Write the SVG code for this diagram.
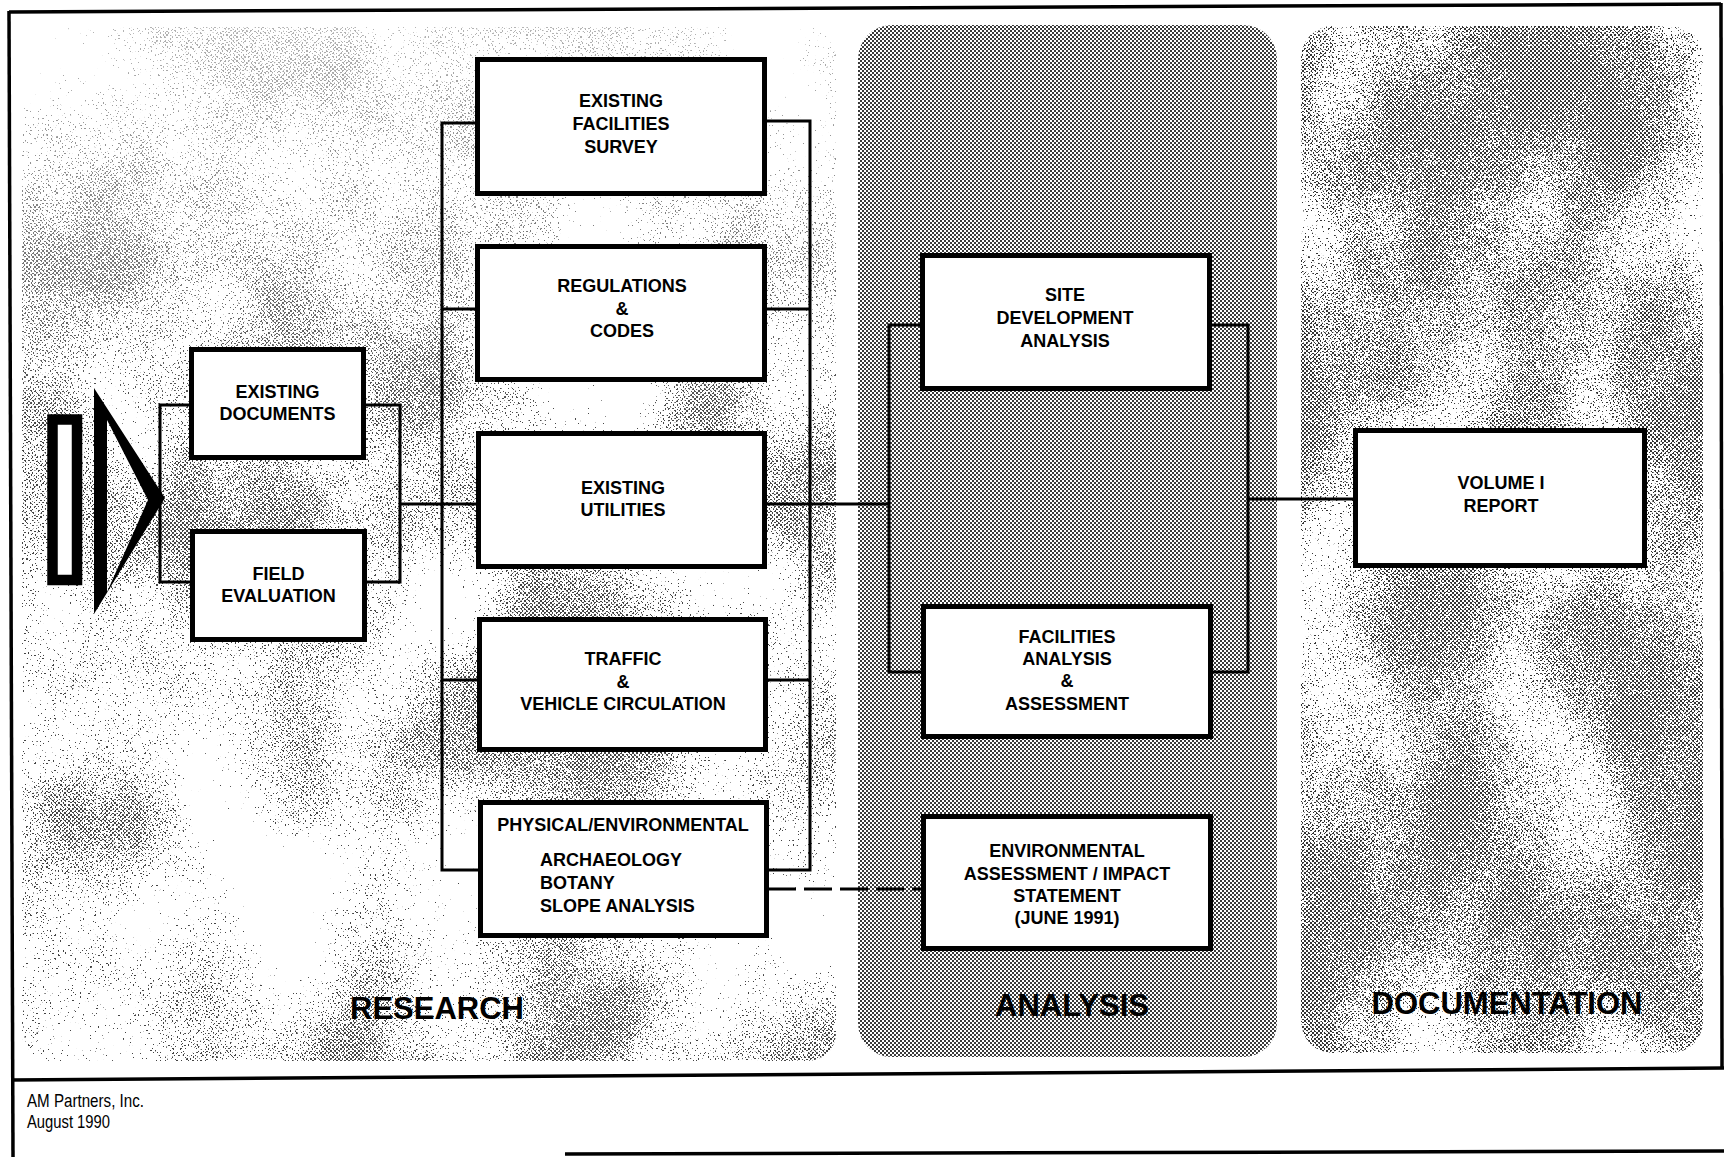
<svg xmlns="http://www.w3.org/2000/svg" width="1724" height="1157" viewBox="0 0 1724 1157">
<style>
.box{fill:#fff;stroke:#000;stroke-width:5}
.t{font-family:"Liberation Sans",Arial,Helvetica,sans-serif;font-weight:bold;font-size:18px;fill:#000;text-anchor:middle}
.tl{text-anchor:start}
.lab{font-family:"Liberation Sans",Arial,Helvetica,sans-serif;font-weight:bold;font-size:31px;fill:#000;text-anchor:middle}
.foot{font-family:"Liberation Sans",Arial,Helvetica,sans-serif;font-size:19px;fill:#000}
.conn{fill:none;stroke:#000;stroke-width:3}
.frame{fill:none;stroke:#000;stroke-width:3.5}
</style>
<defs>
<pattern id="chk" width="4" height="4" patternUnits="userSpaceOnUse">
<rect width="4" height="4" fill="#fff"/>
<rect width="2" height="2" fill="#3a3a3a"/>
<rect x="2" y="2" width="2" height="2" fill="#3a3a3a"/>
</pattern>
<pattern id="chkD" width="4" height="4" patternUnits="userSpaceOnUse">
<rect width="2" height="2" fill="#333"/>
<rect x="2" y="2" width="2" height="2" fill="#333"/>
</pattern>
<pattern id="chkL" width="4" height="4" patternUnits="userSpaceOnUse">
<rect width="2" height="2" fill="#444"/>
<rect x="2" y="2" width="2" height="2" fill="#444"/>
</pattern>
<filter id="stR" x="0" y="0" width="100%" height="100%" color-interpolation-filters="sRGB">
<feTurbulence type="fractalNoise" baseFrequency="0.6" numOctaves="1" seed="4" result="f"/>
<feColorMatrix in="f" type="matrix" values="1 0 0 0 0 1 0 0 0 0 1 0 0 0 0 0 0 0 0 1" result="fo"/>
<feTurbulence type="fractalNoise" baseFrequency="0.006 0.005" numOctaves="3" seed="9" result="c"/>
<feColorMatrix in="c" type="matrix" values="1 0 0 0 0 1 0 0 0 0 1 0 0 0 0 0 0 0 0 1" result="co"/>
<feComposite in="fo" in2="co" operator="arithmetic" k2="0.9" k3="0.65" k4="-0.34" result="s"/>
<feColorMatrix in="s" type="matrix" values="0 0 0 0 1 0 0 0 0 1 0 0 0 0 1 30 0 0 0 -15"/>
</filter>
<filter id="stD" x="0" y="0" width="100%" height="100%" color-interpolation-filters="sRGB">
<feTurbulence type="fractalNoise" baseFrequency="0.6" numOctaves="1" seed="11" result="f"/>
<feColorMatrix in="f" type="matrix" values="1 0 0 0 0 1 0 0 0 0 1 0 0 0 0 0 0 0 0 1" result="fo"/>
<feTurbulence type="fractalNoise" baseFrequency="0.008 0.005" numOctaves="3" seed="21" result="c"/>
<feColorMatrix in="c" type="matrix" values="1 0 0 0 0 1 0 0 0 0 1 0 0 0 0 0 0 0 0 1" result="co"/>
<feComposite in="fo" in2="co" operator="arithmetic" k2="0.7" k3="0.5" k4="-0.07" result="s"/>
<feColorMatrix in="s" type="matrix" values="0 0 0 0 1 0 0 0 0 1 0 0 0 0 1 30 0 0 0 -15"/>
</filter>
<linearGradient id="fadeTop" x1="0" y1="0" x2="0" y2="1">
<stop offset="0" stop-color="#000" stop-opacity="0.6"/>
<stop offset="0.4" stop-color="#000" stop-opacity="0"/>
</linearGradient>
<mask id="mR" maskUnits="userSpaceOnUse" x="0" y="0" width="1724" height="1157">
<rect x="22" y="27" width="814" height="1034" fill="#fff" filter="url(#stR)"/>
<rect x="22" y="27" width="814" height="1034" fill="url(#fadeTop)"/>
</mask>
<mask id="mD" maskUnits="userSpaceOnUse" x="0" y="0" width="1724" height="1157">
<rect x="1301" y="26" width="402" height="1027" fill="#fff" filter="url(#stD)"/>
</mask>
</defs>

<rect width="1724" height="1157" fill="#fff"/>

<g id="panel-research">
<rect x="22" y="27" width="814" height="1034" rx="28" fill="url(#chkL)" mask="url(#mR)"/>
<text class="lab" x="437" y="1019">RESEARCH</text>
</g>
<g id="panel-analysis">
<rect x="858" y="25" width="419" height="1032" rx="34" fill="url(#chk)"/>
<text class="lab" x="1072" y="1016">ANALYSIS</text>
</g>
<g id="panel-documentation">
<rect x="1301" y="26" width="402" height="1027" rx="32" fill="url(#chkD)" mask="url(#mD)"/>
<text class="lab" x="1507" y="1014">DOCUMENTATION</text>
</g>

<g id="frame">
<line class="frame" x1="9" y1="12" x2="1721" y2="4"/>
<line class="frame" x1="9" y1="11" x2="13" y2="1157"/>
<line class="frame" x1="1721" y1="3" x2="1722" y2="1069"/>
<line class="frame" x1="11" y1="1080" x2="1724" y2="1068"/>
<line class="frame" x1="565" y1="1154" x2="1724" y2="1151"/>
</g>

<g id="connectors">
<path class="conn" d="M190,405 H160 V582 H191"/>
<path class="conn" d="M364,405 H400 V582 H365"/>
<path class="conn" d="M400,504 H478"/>
<path class="conn" d="M477,123 H442 V870 H480"/>
<path class="conn" d="M442,309 H477"/>
<path class="conn" d="M442,680 H479"/>
<path class="conn" d="M765,121 H810 V870 H767"/>
<path class="conn" d="M765,309 H810"/>
<path class="conn" d="M766,680 H810"/>
<path class="conn" d="M765,504 H889"/>
<path class="conn" d="M922,325 H889 V672 H923"/>
<path class="conn" d="M1210,325 H1248 V672 H1211"/>
<path class="conn" d="M1248,499 H1355"/>
<path class="conn" d="M768,889 H922" stroke-dasharray="28 8"/>
</g>

<g id="start-symbol">
<rect x="52.5" y="419.5" width="24.5" height="160.5" fill="#fff" stroke="#000" stroke-width="10.5"/>
<path d="M94,388 L165,498 L94,614 Z M107,420 L107,592 L148,500 Z" fill="#000" fill-rule="evenodd"/>
</g>

<g id="existing-documents">
<rect class="box" x="191.5" y="349.5" width="172" height="108"/>
<text class="t" x="277.5" y="398">EXISTING</text>
<text class="t" x="277.5" y="420">DOCUMENTS</text>
</g>
<g id="field-evaluation">
<rect class="box" x="192.5" y="531.5" width="172" height="108"/>
<text class="t" x="278.5" y="580">FIELD</text>
<text class="t" x="278.5" y="602">EVALUATION</text>
</g>

<g id="existing-facilities-survey">
<rect class="box" x="477.5" y="59.5" width="287" height="134"/>
<text class="t" x="621" y="107">EXISTING</text>
<text class="t" x="621" y="130">FACILITIES</text>
<text class="t" x="621" y="153">SURVEY</text>
</g>
<g id="regulations-codes">
<rect class="box" x="477.5" y="246.5" width="287" height="133"/>
<text class="t" x="622" y="292">REGULATIONS</text>
<text class="t" x="622" y="315">&amp;</text>
<text class="t" x="622" y="337">CODES</text>
</g>
<g id="existing-utilities">
<rect class="box" x="478.5" y="433.5" width="286" height="133"/>
<text class="t" x="623" y="494">EXISTING</text>
<text class="t" x="623" y="516">UTILITIES</text>
</g>
<g id="traffic-vehicle-circulation">
<rect class="box" x="479.5" y="619.5" width="286" height="130"/>
<text class="t" x="623" y="665">TRAFFIC</text>
<text class="t" x="623" y="688">&amp;</text>
<text class="t" x="623" y="710">VEHICLE CIRCULATION</text>
</g>
<g id="physical-environmental">
<rect class="box" x="480.5" y="802.5" width="286" height="133"/>
<text class="t" x="623" y="831">PHYSICAL/ENVIRONMENTAL</text>
<text class="t tl" x="540" y="866">ARCHAEOLOGY</text>
<text class="t tl" x="540" y="889">BOTANY</text>
<text class="t tl" x="540" y="912">SLOPE ANALYSIS</text>
</g>

<g id="site-development-analysis">
<rect class="box" x="922.5" y="255.5" width="287" height="133"/>
<text class="t" x="1065" y="301">SITE</text>
<text class="t" x="1065" y="324">DEVELOPMENT</text>
<text class="t" x="1065" y="347">ANALYSIS</text>
</g>
<g id="facilities-analysis-assessment">
<rect class="box" x="923.5" y="606.5" width="287" height="130"/>
<text class="t" x="1067" y="643">FACILITIES</text>
<text class="t" x="1067" y="665">ANALYSIS</text>
<text class="t" x="1067" y="687">&amp;</text>
<text class="t" x="1067" y="710">ASSESSMENT</text>
</g>
<g id="environmental-assessment">
<rect class="box" x="923.5" y="816.5" width="287" height="132"/>
<text class="t" x="1067" y="857">ENVIRONMENTAL</text>
<text class="t" x="1067" y="880">ASSESSMENT / IMPACT</text>
<text class="t" x="1067" y="902">STATEMENT</text>
<text class="t" x="1067" y="924">(JUNE 1991)</text>
</g>

<g id="volume-i-report">
<rect class="box" x="1355.5" y="430.5" width="289" height="135"/>
<text class="t" x="1501" y="489">VOLUME I</text>
<text class="t" x="1501" y="512">REPORT</text>
</g>

<g id="footer">
<text class="foot" x="27" y="1107" textLength="117" lengthAdjust="spacingAndGlyphs">AM Partners, Inc.</text>
<text class="foot" x="27" y="1128" textLength="83" lengthAdjust="spacingAndGlyphs">August 1990</text>
</g>
</svg>
